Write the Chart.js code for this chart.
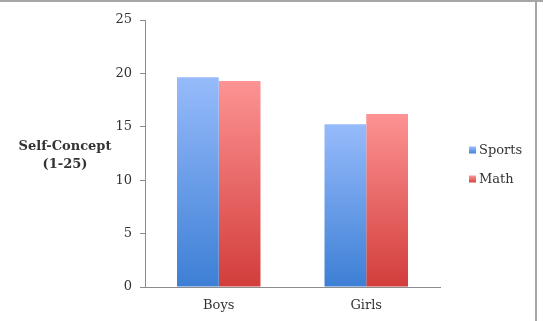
<!DOCTYPE html>
<html>
<head>
<meta charset="utf-8">
<script src="https://cdn.jsdelivr.net/npm/chart.js@4"></script>
<style>
  html, body { margin: 0; padding: 0; background: #fff; }
  #wrap { position: relative; width: 543px; height: 321px; box-sizing: border-box;
          border-top: 2px solid #a6a6a6; }
  #edge { position: absolute; left: 535px; top: 0; width: 2px; height: 321px; background: #a6a6a6; }
</style>
</head>
<body>
<div id="wrap">
  <canvas id="myChart" width="543" height="319"></canvas>
  <div id="edge"></div>
</div>
<script>
var categories = ["Boys", "Girls"];
var sports = [19.65, 15.25];
var math = [19.3, 16.2];
var yTicks = [0, 5, 10, 15, 20, 25];

var FONT = "'DejaVu Serif', serif";
var TEXT = '#333333';
var AXIS = '#8c8c8c';

// vertical gradient per bar, light at the top, darker at the base
function barFill(top, bottom) {
    return function (context) {
        var chart = context.chart;
        var y = chart.scales.y;
        if (!chart.chartArea || !y || context.raw == null) return bottom;
        var y0 = y.getPixelForValue(context.raw);
        var y1 = y.getPixelForValue(0);
        var g = chart.ctx.createLinearGradient(0, y0, 0, y1);
        g.addColorStop(0, top);
        g.addColorStop(1, bottom);
        return g;
    };
}

var sportsTop = '#97bbfb', sportsBottom = '#3d7fd5';
var mathTop = '#fd9393', mathBottom = '#d23d3b';

var sideBits = {
    id: 'sideBits',
    afterDraw: function (chart) {
        var c = chart.ctx;
        c.save();
        // y axis title, horizontal, two lines
        c.fillStyle = TEXT;
        c.font = "bold 13px " + FONT;
        c.textAlign = 'center';
        c.textBaseline = 'middle';
        c.fillText('Self-Concept', 65, 145);
        c.fillText('(1-25)', 65, 163);
        // legend
        var items = [
            { label: chart.data.datasets[0].label, top: sportsTop, bottom: sportsBottom, y: 148 },
            { label: chart.data.datasets[1].label, top: mathTop, bottom: mathBottom, y: 177 }
        ];
        c.font = "13px " + FONT;
        c.textAlign = 'left';
        items.forEach(function (it) {
            var g = c.createLinearGradient(0, it.y - 3, 0, it.y + 4);
            g.addColorStop(0, it.top);
            g.addColorStop(1, it.bottom);
            c.fillStyle = g;
            c.fillRect(469, it.y - 3.5, 7, 7);
            c.fillStyle = TEXT;
            c.fillText(it.label, 479, it.y + 1);
        });
        c.restore();
    }
};

var ctx = document.getElementById('myChart').getContext('2d');
var myChart = new Chart(ctx, {
    type: 'bar',
    data: {
        labels: categories,
        datasets: [
            { label: 'Sports', data: sports, backgroundColor: barFill(sportsTop, sportsBottom) },
            { label: 'Math', data: math, backgroundColor: barFill(mathTop, mathBottom) }
        ]
    },
    options: {
        responsive: false,
        animation: false,
        devicePixelRatio: 1,
        layout: { padding: { top: 18, right: 103, left: 0, bottom: 0 } },
        datasets: { bar: { categoryPercentage: 0.566, barPercentage: 1.0, borderWidth: 0 } },
        plugins: { legend: { display: false }, tooltip: { enabled: false } },
        scales: {
            x: {
                grid: { display: false, drawTicks: false },
                border: { color: AXIS, width: 1 },
                ticks: { color: TEXT, font: { family: FONT, size: 13 }, padding: 11 },
                afterFit: function (s) { s.height = 34; }
            },
            y: {
                min: 0, max: 25,
                afterBuildTicks: function (s) { s.ticks = yTicks.map(function (v) { return { value: v }; }); },
                grid: { display: true, drawOnChartArea: false, drawTicks: true, tickLength: 5, color: AXIS },
                border: { color: AXIS, width: 1 },
                ticks: { color: TEXT, font: { family: FONT, size: 13 }, padding: 8 },
                afterFit: function (s) { s.width = 145; }
            }
        }
    },
    plugins: [sideBits]
});
</script>
</body>
</html>
